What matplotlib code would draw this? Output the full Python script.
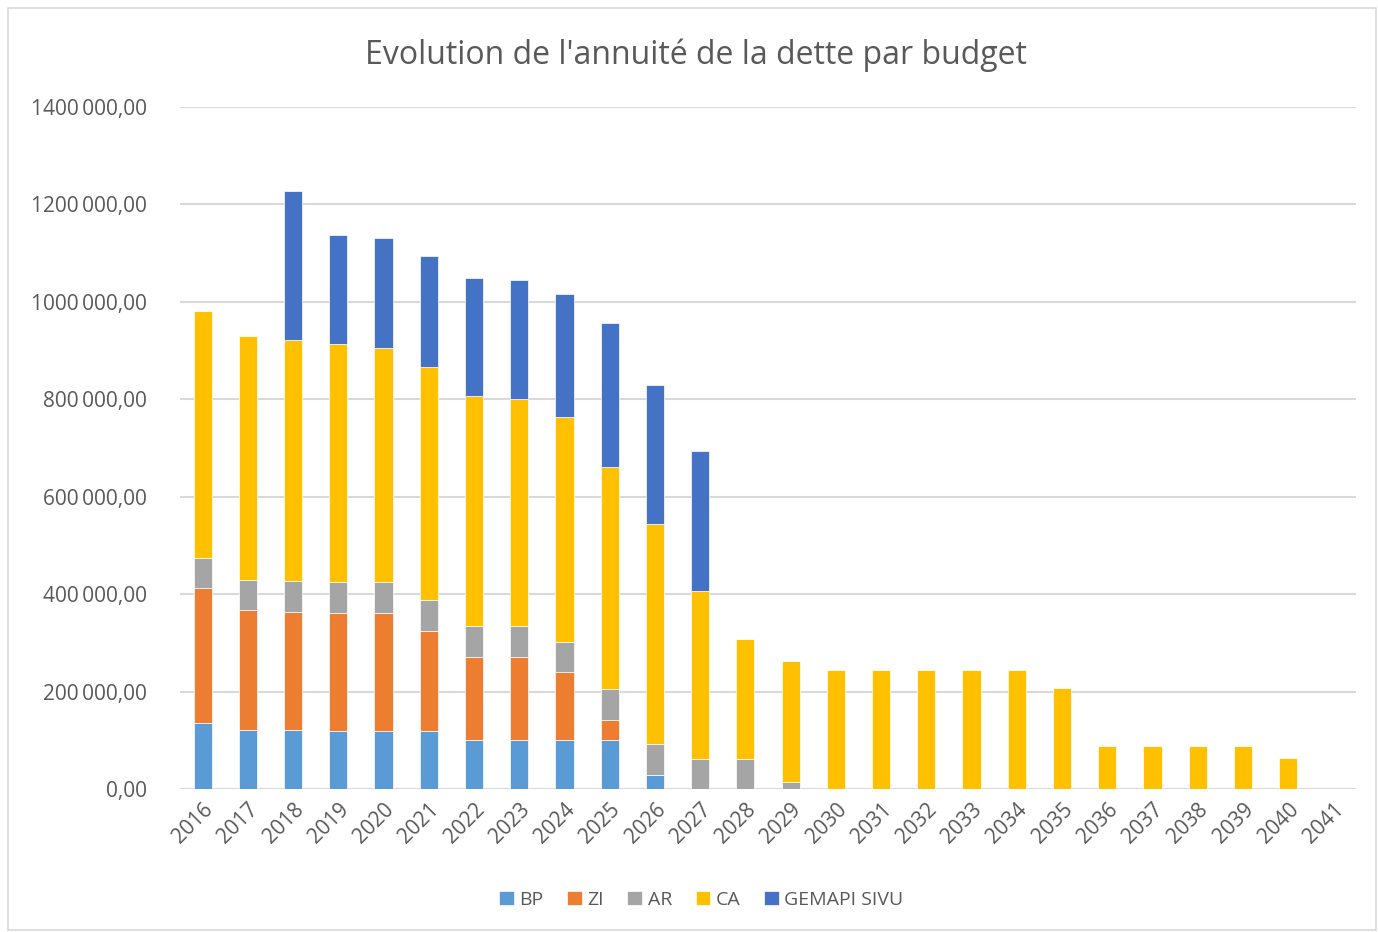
import numpy as np
import matplotlib
matplotlib.use("Agg")
import matplotlib.pyplot as plt
from matplotlib.ticker import FuncFormatter
from matplotlib.patches import Rectangle

plt.rcParams['font.family'] = ['Open Sans', 'DejaVu Sans']

years = [str(y) for y in range(2016, 2042)]

# annuités par budget
bp = [136000, 122000, 122000, 119000, 119000, 119000, 100000, 100000, 100000, 100000,
      29000, 0, 0, 0, 0, 0, 0, 0, 0, 0, 0, 0, 0, 0, 0, 0]
zi = [276000, 245000, 242000, 242000, 242000, 205000, 171000, 171000, 140000, 42000,
      0, 0, 0, 0, 0, 0, 0, 0, 0, 0, 0, 0, 0, 0, 0, 0]
ar = [63000, 63000, 64000, 63000, 63000, 64000, 63000, 63000, 62000, 63000,
      63000, 61000, 61000, 15000, 0, 0, 0, 0, 0, 0, 0, 0, 0, 0, 0, 0]
ca = [506000, 500000, 494000, 490000, 482000, 479000, 473000, 467000, 462000, 456000,
      451000, 345000, 247000, 247000, 244000, 244000, 244000, 244000, 244000, 207000,
      88600, 88600, 88600, 88600, 64600, 0]
gemapi = [0, 0, 306000, 223000, 226000, 227000, 242000, 243000, 253000, 296000,
          287000, 287000, 0, 0, 0, 0, 0, 0, 0, 0, 0, 0, 0, 0, 0, 0]

series = [("BP", bp, "#5B9BD5"), ("ZI", zi, "#ED7D31"), ("AR", ar, "#A5A5A5"),
          ("CA", ca, "#FFC000"), ("GEMAPI SIVU", gemapi, "#4472C4")]

TXT = "#595959"


def fr_fmt(v, pos):
    v = int(round(v))
    if v == 0:
        return "0,00"
    return f"{v // 1000}\u2009{v % 1000:03d},00"


fig = plt.figure(figsize=(13.78, 9.32), dpi=100)
ax = fig.add_axes([180 / 1378, 1 - 789 / 932, 1176 / 1378, 682 / 932])

x = np.arange(len(years))
bottom = np.zeros(len(years))
for name, vals, col in series:
    vals = np.array(vals, dtype=float)
    ax.bar(x, vals, width=0.4, bottom=bottom, color=col, label=name,
           edgecolor="white", linewidth=0.5, zorder=3)
    bottom += vals

ax.set_xlim(-0.5, len(years) - 0.5)
ax.set_ylim(0, 1400000)
ax.set_yticks(np.arange(0, 1400001, 200000))
ax.yaxis.set_major_formatter(FuncFormatter(fr_fmt))
ax.set_xticks(x)
ax.set_xticklabels(years, rotation=45, ha="right", rotation_mode="anchor")
ax.grid(axis="y", color="#D9D9D9", linewidth=1.5, zorder=0)
for s in ["top", "right", "left", "bottom"]:
    ax.spines[s].set_visible(False)
ax.axhline(0, color="#D9D9D9", linewidth=1.5, zorder=2)
ax.tick_params(axis="both", length=0, colors=TXT)
ax.tick_params(axis="y", pad=24, labelsize=15)
ax.tick_params(axis="x", pad=7, labelsize=15)

fig.text(0.505, 1 - 55 / 932, "Evolution de l'annuité de la dette par budget",
         ha="center", va="center", fontsize=23, color=TXT)

leg = fig.legend(loc="center", bbox_to_anchor=(0.509, 1 - 900 / 932), ncol=5,
                 frameon=False, fontsize=14, handlelength=0.75, handleheight=0.75,
                 handletextpad=0.3, columnspacing=1.2)
for t in leg.get_texts():
    t.set_color(TXT)

fig.patches.append(Rectangle((8 / 1378, 2 / 932), 1368 / 1378, 922 / 932,
                             transform=fig.transFigure, fill=False,
                             edgecolor="#D9D9D9", linewidth=1.2))

fig.savefig("out.png", dpi=100)
